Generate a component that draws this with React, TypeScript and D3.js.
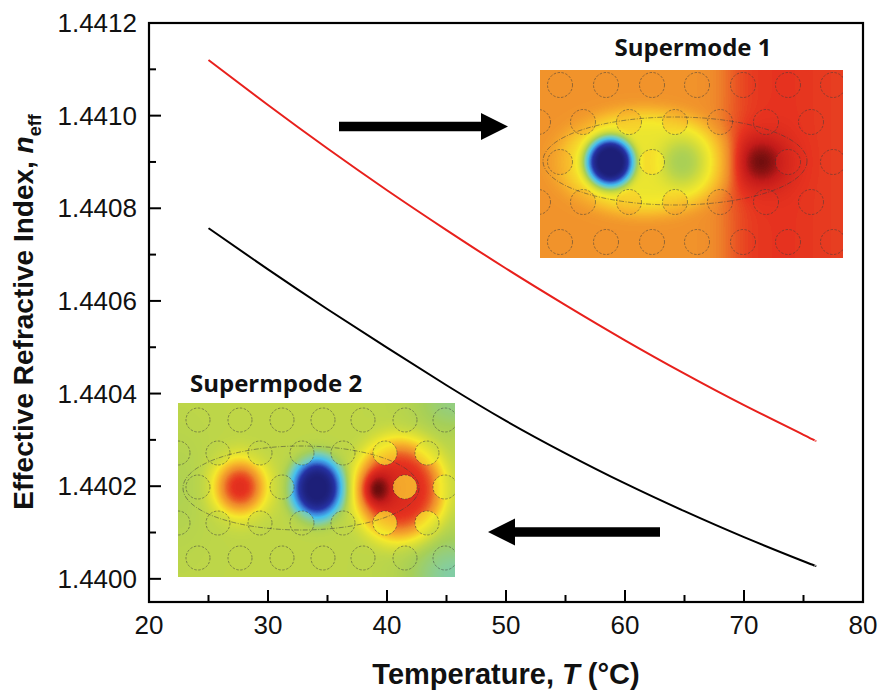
import React, { useMemo } from "react";
import * as d3 from "d3";

// Effective index of the two supermodes versus temperature
const temperature = [25, 30, 35, 40, 45, 50, 55, 60, 65, 70, 75, 76];
const supermode1 = [
  1.44112, 1.441023, 1.440929, 1.440839, 1.440753, 1.44067, 1.440591, 1.440515,
  1.440443, 1.440375, 1.440311, 1.440298,
];
const supermode2 = [
  1.440757, 1.440668, 1.440582, 1.440499, 1.440418, 1.440341, 1.440271, 1.440206,
  1.440146, 1.44009, 1.440038, 1.440028,
];
const xTicks = [20, 30, 40, 50, 60, 70, 80];
const xMinorTicks = [25, 35, 45, 55, 65, 75];
const yTicks = [1.44, 1.4402, 1.4404, 1.4406, 1.4408, 1.441, 1.4412];
const yMinorTicks = [1.4401, 1.4403, 1.4405, 1.4407, 1.4409, 1.4411];

const W = 881;
const H = 690;
const M = { left: 149, right: 863, top: 23, bottom: 602 };

// jet-like colour map for the mode field maps
const jetStops = [0, 0.1, 0.18, 0.27, 0.38, 0.47, 0.56, 0.64, 0.72, 0.79, 0.87, 0.94, 1];
const jetColors = [
  "#1d1f78", "#2633a6", "#3a7fd8", "#45c0ee", "#7ccdb0", "#a6cf58", "#d2dc3b",
  "#f5e92b", "#f7b72b", "#ef8a2b", "#e6321f", "#c41b1a", "#6c0d0d",
];

type Hole = [number, number];

const g = (dx: number, dy: number, sx: number, sy: number, p: number) =>
  Math.exp(-Math.pow((dx / sx) ** 2 + (dy / sy) ** 2, p));

function lattice(rows: number[], rowA: number[], rowB: number[], center: number[]): Hole[] {
  const out: Hole[] = [];
  rows.forEach((ry, i) => {
    const xs = i === 2 ? center : i % 2 === 0 ? rowA : rowB;
    xs.forEach((rx) => out.push([rx, ry]));
  });
  return out;
}

// air-hole lattices (local coordinates of each map)
const holes1 = lattice(
  [15, 52, 92, 132, 172],
  [20, 66, 112, 157, 203, 248, 293],
  [-2, 43, 89, 135, 180, 226, 271, 316],
  [20, 112, 248, 293]
);
const holes2 = lattice(
  [17, 50, 84, 120, 155],
  [20, 62, 104, 145, 185, 227, 267],
  [0, 40, 82, 124, 165, 207, 249, 290],
  [20, 104, 227, 267]
);

const inset1 = { x: 540, y: 70, w: 303, h: 188, r: 12.5, ellipse: [135, 91, 132, 44] };
const inset2 = { x: 178, y: 403, w: 277, h: 174, r: 12, ellipse: [123, 85, 118, 42] };

function bg1(x: number) {
  const s = 1 / (1 + Math.exp(-(x - 190) / 10));
  return 0.775 + 0.095 * s - 0.012 * Math.max(0, (x - 250) / 53);
}
function field1(x: number, y: number) {
  let t = bg1(x);
  t += 0.13 * g(x - 220, y - 92, 28, 26, 1);
  t -= 0.16 * g(x - 105, y - 92, 85, 52, 3);
  t -= 0.14 * g(x - 143, y - 92, 22, 24, 1.3);
  t -= 0.64 * g(x - 70, y - 92, 25, 26, 2.2);
  return t;
}
function bg2(x: number, y: number) {
  let t = 0.52;
  t -= 0.13 * g(x - 277, y - 174, 45, 40, 1);
  t -= 0.09 * g(x - 277, y, 40, 30, 1);
  t -= 0.03 * g(x, y - 87, 30, 60, 1);
  return t;
}
function field2(x: number, y: number) {
  let t = bg2(x, y);
  t += 0.36 * g(x - 62, y - 84, 27, 29, 1.3);
  t -= 0.53 * g(x - 139, y - 85, 27, 32, 1.8);
  t += 0.37 * g(x - 222, y - 87, 46, 52, 2.2);
  t += 0.13 * g(x - 198, y - 86, 15, 17, 1);
  return t;
}

function renderField(
  w: number,
  h: number,
  fn: (x: number, y: number) => number,
  bg: (x: number, y: number) => number,
  holes: Hole[],
  r: number,
  pull: number
) {
  const jet = d3
    .scaleLinear<string>()
    .domain(jetStops)
    .range(jetColors)
    .interpolate(d3.interpolateRgb)
    .clamp(true);
  const lut = d3.range(256).map((i) => d3.rgb(jet(i / 255)));
  const canvas = document.createElement("canvas");
  canvas.width = w;
  canvas.height = h;
  const ctx = canvas.getContext("2d");
  if (!ctx) return "";
  const img = ctx.createImageData(w, h);
  for (let y = 0; y < h; y++) {
    for (let x = 0; x < w; x++) {
      const px = x + 0.5;
      const py = y + 0.5;
      let t = fn(px, py);
      for (const [hx, hy] of holes) {
        const d = Math.hypot(px - hx, py - hy);
        if (d < r) {
          t += (bg(px, py) - t) * pull;
          break;
        }
      }
      const c = lut[Math.max(0, Math.min(255, Math.round(t * 255)))];
      const k = (y * w + x) * 4;
      img.data[k] = c.r;
      img.data[k + 1] = c.g;
      img.data[k + 2] = c.b;
      img.data[k + 3] = 255;
    }
  }
  ctx.putImageData(img, 0, 0);
  return canvas.toDataURL();
}

function Arrow({ x0, x1, y, dir }: { x0: number; x1: number; y: number; dir: 1 | -1 }) {
  // x0 = tail, x1 = tip
  const shaft = 4.8;
  const head = 13.5;
  const headLen = 27;
  const base = x1 - dir * headLen;
  const pts = [
    [x0, y - shaft],
    [base, y - shaft],
    [base, y - head],
    [x1, y],
    [base, y + head],
    [base, y + shaft],
    [x0, y + shaft],
  ];
  return <polygon points={pts.map((p) => p.join(",")).join(" ")} fill="#000" />;
}

function FieldMap({
  inset,
  holes,
  url,
  id,
}: {
  inset: typeof inset1;
  holes: Hole[];
  url: string;
  id: string;
}) {
  const [ex, ey, erx, ery] = inset.ellipse;
  return (
    <g transform={`translate(${inset.x},${inset.y})`}>
      <defs>
        <clipPath id={id}>
          <rect x={0} y={0} width={inset.w} height={inset.h} />
        </clipPath>
      </defs>
      <image href={url} x={0} y={0} width={inset.w} height={inset.h} preserveAspectRatio="none" />
      <g clipPath={`url(#${id})`} fill="none" stroke="#3b3b3b" strokeOpacity={0.65} strokeWidth={0.8}>
        {holes.map(([hx, hy], i) => (
          <circle key={i} cx={hx} cy={hy} r={inset.r} strokeDasharray="2.5 1.5" />
        ))}
        <ellipse cx={ex} cy={ey} rx={erx} ry={ery} strokeDasharray="5 1.5 1 1.5" />
      </g>
    </g>
  );
}

export default function App() {
  const x = d3.scaleLinear().domain([20, 80]).range([M.left, M.right]);
  const y = d3.scaleLinear().domain([1.43995, 1.4412]).range([M.bottom, M.top]);

  const line = d3
    .line<number>()
    .x((_, i) => x(temperature[i]))
    .y((d) => y(d))
    .curve(d3.curveNatural);

  const url1 = useMemo(
    () => renderField(inset1.w, inset1.h, field1, (px) => bg1(px), holes1, inset1.r, 0.3),
    []
  );
  const url2 = useMemo(
    () => renderField(inset2.w, inset2.h, field2, bg2, holes2, inset2.r, 0.4),
    []
  );

  const fmt = d3.format(".4f");
  const tickFont = "'Liberation Sans', Arial, sans-serif";
  const insetFont = "'Open Sans', Lato, sans-serif";

  return (
    <svg
      width={W}
      height={H}
      viewBox={`0 0 ${W} ${H}`}
      style={{ position: "absolute", left: 0, top: 0, background: "#fff" }}
    >
      <rect x={0} y={0} width={W} height={H} fill="#fff" />

      {/* field maps */}
      <FieldMap inset={inset1} holes={holes1} url={url1} id="clip-sm1" />
      <FieldMap inset={inset2} holes={holes2} url={url2} id="clip-sm2" />

      <text
        x={693}
        y={56}
        textAnchor="middle"
        fontFamily={insetFont}
        fontWeight={700}
        fontSize={24}
        fill="#111"
      >
        Supermode 1
      </text>
      <text x={190} y={392} fontFamily={insetFont} fontWeight={700} fontSize={24} fill="#111">
        Supermpode 2
      </text>

      {/* arrows */}
      <Arrow x0={339} x1={508} y={126.5} dir={1} />
      <Arrow x0={660} x1={488} y={532} dir={-1} />

      {/* curves */}
      <path d={line(supermode1) ?? ""} fill="none" stroke="#e8201c" strokeWidth={2} />
      <path d={line(supermode2) ?? ""} fill="none" stroke="#000" strokeWidth={2} />

      {/* frame */}
      <rect
        x={M.left}
        y={M.top}
        width={M.right - M.left}
        height={M.bottom - M.top}
        fill="none"
        stroke="#000"
        strokeWidth={2.2}
      />

      {/* x ticks */}
      {xTicks.map((t) => (
        <g key={`xt${t}`}>
          <line x1={x(t)} x2={x(t)} y1={M.bottom} y2={M.bottom - 12} stroke="#000" strokeWidth={2} />
          <text x={x(t)} y={634} textAnchor="middle" fontFamily={tickFont} fontSize={26} fill="#111">
            {t}
          </text>
        </g>
      ))}
      {xMinorTicks.map((t) => (
        <line
          key={`xm${t}`}
          x1={x(t)}
          x2={x(t)}
          y1={M.bottom}
          y2={M.bottom - 7}
          stroke="#000"
          strokeWidth={2}
        />
      ))}

      {/* y ticks */}
      {yTicks.map((t) => (
        <g key={`yt${t}`}>
          <line x1={M.left} x2={M.left + 12} y1={y(t)} y2={y(t)} stroke="#000" strokeWidth={2} />
          <text x={137} y={y(t) + 9} textAnchor="end" fontFamily={tickFont} fontSize={26} fill="#111">
            {fmt(t)}
          </text>
        </g>
      ))}
      {yMinorTicks.map((t) => (
        <line
          key={`ym${t}`}
          x1={M.left}
          x2={M.left + 7}
          y1={y(t)}
          y2={y(t)}
          stroke="#000"
          strokeWidth={2}
        />
      ))}

      {/* axis titles */}
      <text
        x={(M.left + M.right) / 2}
        y={684}
        textAnchor="middle"
        fontFamily={tickFont}
        fontWeight={700}
        fontSize={29}
        fill="#111"
      >
        Temperature, <tspan fontStyle="italic">T</tspan> (°C)
      </text>
      <text
        transform={`translate(33,312) rotate(-90)`}
        textAnchor="middle"
        fontFamily={tickFont}
        fontWeight={700}
        fontSize={28}
        fill="#111"
      >
        Effective Refractive Index, <tspan fontStyle="italic">n</tspan>
        <tspan fontSize={18} dy={8}>
          eff
        </tspan>
      </text>
    </svg>
  );
}
